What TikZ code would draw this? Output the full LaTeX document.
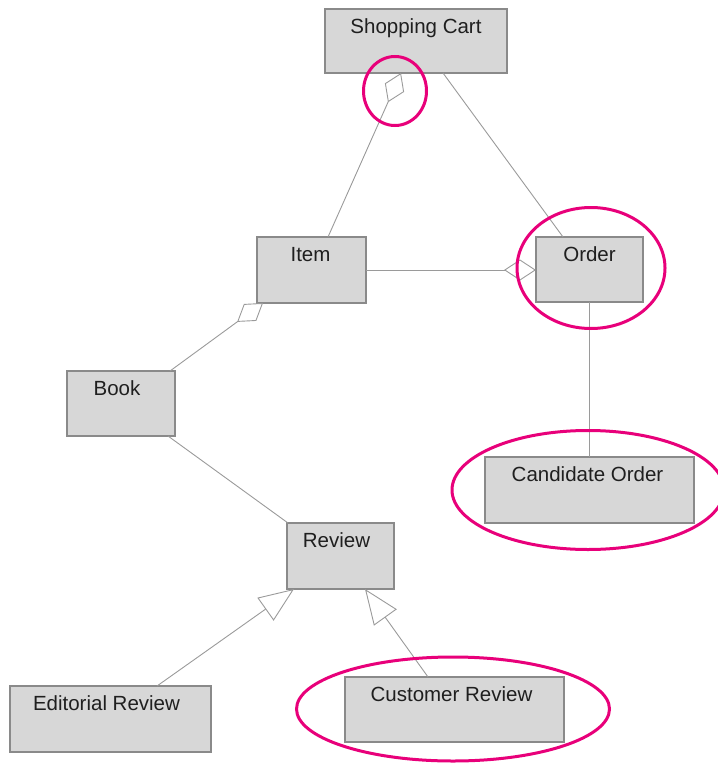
\documentclass[tikz,border=0pt]{standalone}
\usepackage{fontspec}
\setmainfont{Liberation Sans}
\usetikzlibrary{arrows.meta,calc,shapes.geometric}
\definecolor{boxfill}{HTML}{D7D7D7}
\definecolor{boxline}{HTML}{8A8A8A}
\definecolor{conn}{HTML}{9A9A9A}
\definecolor{hlcol}{HTML}{E8007A}
\tikzset{
  umlbox/.style={draw=boxline, fill=boxfill, line width=1.1pt, inner sep=0pt, outer sep=0pt},
  lbl/.style={anchor=base, inner sep=0pt, text=black!88, font=\fontsize{20.5}{23}\selectfont},
  link/.style={draw=conn, line width=0.9pt},
  agg/.style={link, -{Diamond[open, length=32pt, width=21pt]}},
  gen/.style={link, -{Triangle[open, length=35pt, width=28pt]}},
  hl/.style={draw=hlcol, line width=3pt, ellipse, inner sep=0pt}
}
\begin{document}
\begin{tikzpicture}[x=1pt,y=-1pt]
\useasboundingbox (0,0) rectangle (717,765);
% boxes
\node[umlbox, minimum width=182pt, minimum height=64pt] (cart) at (416,41) {};
\node[umlbox, minimum width=109pt, minimum height=66pt] (item) at (311.5,270) {};
\node[umlbox, minimum width=107pt, minimum height=65pt] (order) at (589.5,269.5) {};
\node[umlbox, minimum width=108pt, minimum height=65pt] (book) at (121,403.5) {};
\node[umlbox, minimum width=209pt, minimum height=66pt] (cand) at (589.5,490) {};
\node[umlbox, minimum width=107pt, minimum height=66pt] (review) at (340.5,556) {};
\node[umlbox, minimum width=201pt, minimum height=66pt] (edit) at (110.5,719) {};
\node[umlbox, minimum width=219pt, minimum height=65pt] (cust) at (454.5,709.5) {};
% labels
\node[lbl] (cartT) at ($(cart.north)+(0,25)$) {Shopping Cart};
\node[lbl] (itemT) at ($(item.north)+(-1,24.5)$) {Item};
\node[lbl] (orderT) at ($(order.north)+(0,24.5)$) {Order};
\node[lbl] (bookT) at ($(book.north)+(-4,24.5)$) {Book};
\node[lbl] (candT) at ($(cand.north)+(-2,24.5)$) {Candidate Order};
\node[lbl] (reviewT) at ($(review.north)+(-4,24.5)$) {Review};
\node[lbl] (editT) at ($(edit.north)+(-4,24.5)$) {Editorial Review};
\node[lbl] (custT) at ($(cust.north)+(-3,24.5)$) {Customer Review};
% connectors
\draw[agg] ($(item.north west)+(71,0)$) -- ($(cart.south west)+(76,0)$);
\draw[link] ($(cart.south west)+(118,0)$) -- ($(order.north west)+(27,0)$);
\draw[agg] (item.east) -- (item.east -| order.west);
\draw[agg] ($(book.north east)+(-5,0)$) -- ($(item.south west)+(6,0)$);
\draw[link] ($(book.south east)+(-7,0)$) -- ($(review.north west)+(1,0)$);
\draw[link] (order.south) -- (cand.north);
\draw[gen] ($(edit.north west)+(147,0)$) -- ($(review.south west)+(7,0)$);
\draw[gen] ($(cust.north west)+(83,0)$) -- ($(review.south west)+(78,0)$);
% highlight ellipses
\node[hl, minimum width=63pt, minimum height=69pt] (hl1) at (395,91) {};
\node[hl, minimum width=148pt, minimum height=121pt] (hl2) at (591,268) {};
\node[hl, minimum width=272pt, minimum height=119pt] (hl3) at (588,490) {};
\node[hl, minimum width=313pt, minimum height=104pt] (hl4) at (453,709) {};
\end{tikzpicture}
\end{document}
